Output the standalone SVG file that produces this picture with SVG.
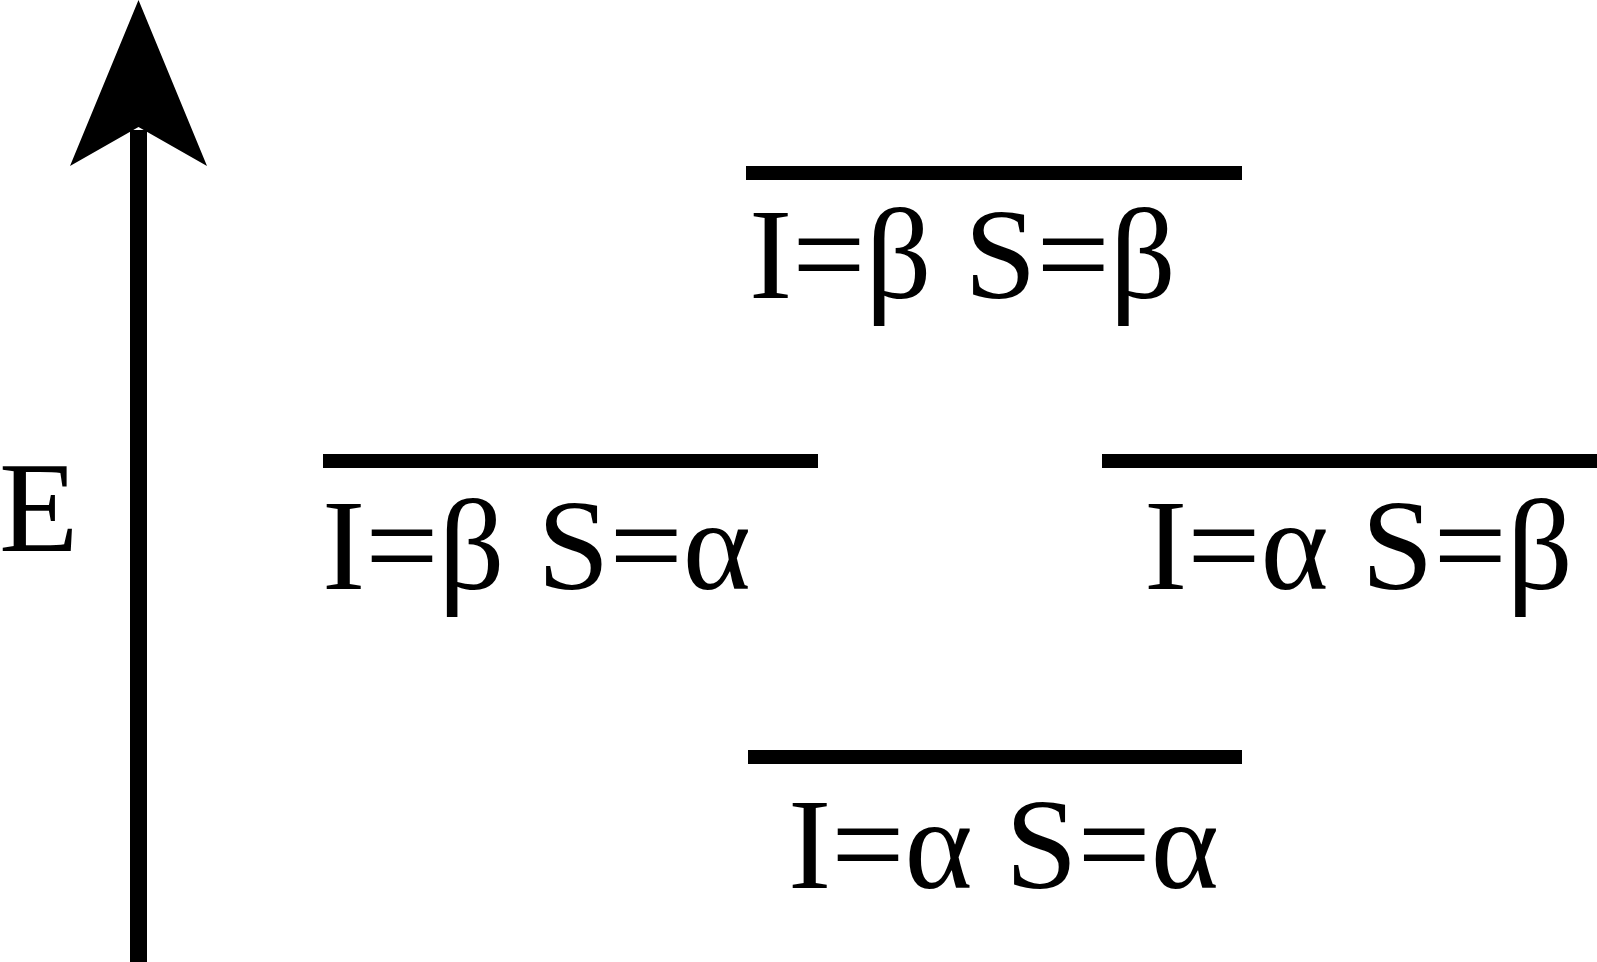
<svg xmlns="http://www.w3.org/2000/svg" width="1597" height="962" viewBox="0 0 1597 962">
<style>
.lvl{stroke:#000;stroke-width:14;fill:none}
</style>
<rect width="1597" height="962" fill="#fff"/>
<g id="axis">
<line x1="138.5" y1="130" x2="138.5" y2="962" stroke="#000" stroke-width="17"/>
<polygon points="138.5,0 207,166 138.5,127 70,166" fill="#000"/>
<text font-family="Liberation Serif, Times New Roman, serif" font-size="130" x="-1" y="551">E</text>
</g>
<g id="connectors"></g>
<g id="labels" font-family="Liberation Serif, Times New Roman, serif" font-size="130" fill="#000">
<g id="level-bb">
<line class="lvl" x1="746" y1="173" x2="1242" y2="173"/>
<text x="749" y="298">I=β S=β</text>
</g>
<g id="level-ba">
<line class="lvl" x1="323" y1="461" x2="818" y2="461"/>
<text x="322" y="589">I=β S=α</text>
</g>
<g id="level-ab">
<line class="lvl" x1="1102" y1="461" x2="1597" y2="461"/>
<text x="1144" y="589">I=α S=β</text>
</g>
<g id="level-aa">
<line class="lvl" x1="748" y1="757" x2="1242" y2="757"/>
<text x="788" y="888">I=α S=α</text>
</g>
</g>
</svg>
